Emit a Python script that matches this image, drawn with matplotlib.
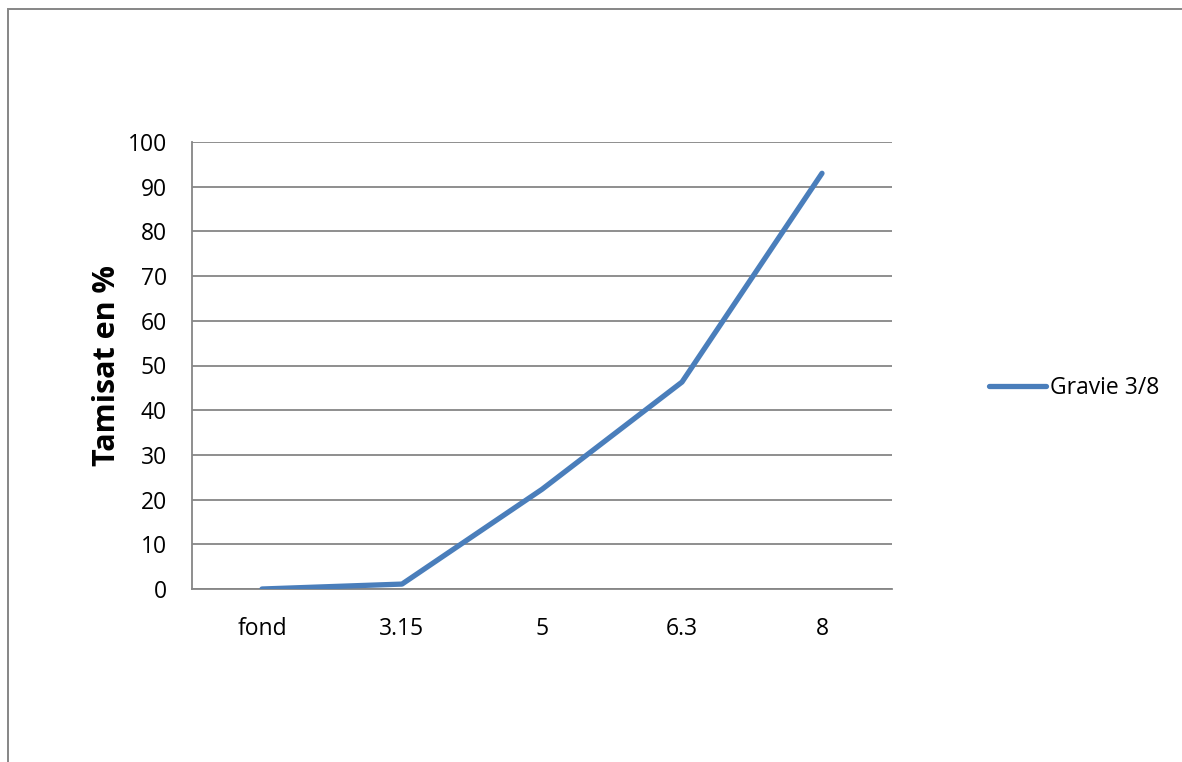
import matplotlib
matplotlib.use("Agg")
import matplotlib.pyplot as plt
from matplotlib.lines import Line2D

# Sieve sizes and cumulative passing percentage
categories = ["fond", "3.15", "5", "6.3", "8"]
tamisat = [0.0, 1.1, 22.3, 46.3, 93.0]
series_name = "Gravie 3/8"
yticks = [0, 10, 20, 30, 40, 50, 60, 70, 80, 90, 100]

W, H = 1182, 762
fig = plt.figure(figsize=(W / 100, H / 100), dpi=100)
fig.patch.set_facecolor("white")

grid_color = "#868686"
line_color = "#4A7EBB"
font = "Open Sans"

# Chart-area frame (left and top edges)
fx, fy = 7.5 / W, 1 - 8.5 / H
fig.add_artist(Line2D([fx, fx, 1.02], [-0.02, fy, fy], transform=fig.transFigure,
                      color=grid_color, linewidth=1.4,
                      solid_joinstyle="miter"))

ax = fig.add_axes([192 / W, 1 - 589 / H, 700 / W, 447 / H])
x = list(range(len(categories)))
ax.plot(x, tamisat, color=line_color, linewidth=3.8,
        solid_capstyle="round", solid_joinstyle="round", label=series_name,
        zorder=3)

ax.set_xlim(-0.5, len(categories) - 0.5)
ax.set_ylim(0, 100)
ax.set_yticks(yticks)
ax.set_xticks(x)
ax.set_xticklabels(categories)
ax.tick_params(axis="both", length=0, labelsize=16.5, colors="black")
ax.tick_params(axis="y", pad=18)
ax.tick_params(axis="x", pad=20)
for lab in ax.get_xticklabels() + ax.get_yticklabels():
    lab.set_fontfamily(font)

ax.yaxis.grid(True, color=grid_color, linewidth=1.3)
ax.set_axisbelow(True)
for side in ["top", "right"]:
    ax.spines[side].set_visible(False)
for side in ["left", "bottom"]:
    ax.spines[side].set_color(grid_color)
    ax.spines[side].set_linewidth(1.3)

ax.set_ylabel("Tamisat en %", fontsize=22, fontweight="bold",
              fontfamily=font)
ax.yaxis.set_label_coords(-0.1, 0.5)

leg = fig.legend(loc="center left", bbox_to_anchor=(980 / W, 1 - 388 / H),
                 frameon=False, prop={"family": font, "size": 16.5},
                 handlelength=2.5, handletextpad=0.15, borderaxespad=0)

fig.savefig("out.png", dpi=100)
